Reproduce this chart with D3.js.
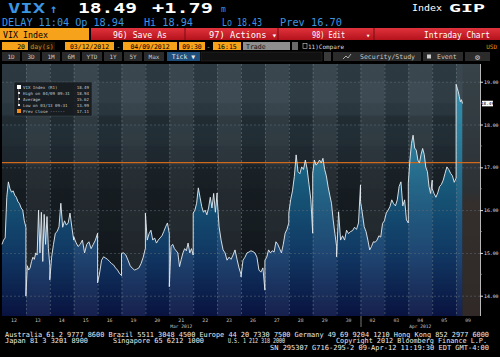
<!DOCTYPE html>
<html>
<head>
<meta charset="utf-8">
<script src="https://cdnjs.cloudflare.com/ajax/libs/d3/7.8.5/d3.min.js"></script>
<style>
body{margin:0;background:#000;overflow:hidden}
svg{display:block}
text{font-family:"DejaVu Sans Mono",monospace}
</style>
</head>
<body>
<div id="chart"></div>
<script>
// trading days shown on the x axis
const days = ["12","13","14","15","16","19","20","21","22","23","26","27","28","29","30","02","03","04","05","09"];
const monthLabels = ["Mar 2012","Apr 2012"];
const monthLabelDay = ["21","04"];
const monthBreakDay = "02";

// intraday VIX ticks, one list per day (evenly spaced through the session)
const dayTicks = [
    [15.2,15.3,15.35,16.3,16.66,16.5,16.42,16.45,16.35,16.3,16.2,16.15,16.05,16.0,15.75,15.6],
    [13.99,14.7,14.6,14.65,14.8,14.9,14.85,15.0,14.95,16.0,15.0,15.95,14.8,15.9,15.2,15.85,15.1,14.7],
    [14.37,14.9,15.2,15.46,15.5,15.61,16.16,15.6,15.75,15.65,15.7,15.93,15.6,15.3],
    [15.38,15.25,15.15,15.2,15.3,15.0,15.2,15.26,15.1,15.2,15.3,15.46],
    [14.3,14.53,14.83,14.91,14.88,14.85,14.8,14.75,14.72,14.65,14.6,14.52,14.47],
    [14.99,15.0,14.95,14.83,14.7,14.64,14.6,14.62,14.65,14.75,14.9,15.11],
    [15.93,15.3,15.45,15.53,15.3,15.35,15.23,15.3,15.35,15.4,15.5,15.61,15.7,15.45],
    [14.21,15.15,15.2,15.1,15.05,15.0,14.68,14.85,15.0,15.1,15.05,15.23,15.0,15.1,14.95],
    [15.93,16.0,16.16,16.52,16.3,16.08,15.95,16.0,15.89,16.05,16.3,16.05,16.39,15.95,16.4],
    [16.3,15.61,15.3,15.07,15.0,14.83,14.9,14.85,14.95,15.07,14.85,14.65,14.5],
    [14.44,14.83,14.9,15.0,15.02,15.05,15.03,15.0,14.9,14.6,14.55,14.65,14.13],
    [14.83,14.9,15.07,15.0,15.05,15.02,15.26,15.2,15.1,15.0,15.2,15.46,15.55,15.7],
    [15.93,16.24,16.45,16.78,17.29,16.9,16.85,17.01,16.95,17.17,16.95,16.6,16.24,15.46],
    [16.86,17.17,17.05,17.1,17.17,17.1,17.21,16.95,16.8,16.55,16.35,16.16,15.77,15.45,15.15],
    [14.91,15.96,15.3,15.4,15.3,15.53,15.45,15.5,15.52,15.6,15.55,15.7,16.59],
    [16.2,15.93,15.61,15.5,15.3,15.07,15.15,15.26,15.25,15.3,15.4,15.37,15.69,15.75],
    [15.75,15.93,16.0,16.08,16.24,16.15,16.1,16.24,16.55,16.66,16.1,16.24,15.77,15.7],
    [16.63,17.17,17.56,17.75,17.45,17.4,17.17,17.1,17.3,17.44,17.3,17.0,16.9,16.55,16.39,16.7],
    [16.5,16.39,16.3,16.4,16.55,16.6,16.7,16.86,17.01,16.95,16.86,16.8,16.65,16.75],
    [18.94,18.85,18.77,18.65,18.53,18.58,18.49]
];
const sessionOpen = "09:30";
const sessionClose = "16:15";
const snapTime = "11:19";

const yTicks = [14,15,16,17,18,19];
const prevClose = 17.11;
const lastPrice = 18.49;

const legendNames = ["VIX Index (R1)","High on 04/09 09:31","Average","Low on 03/13 09:31","Prev Close ------"];
const legendValues = ["18.49","18.94","15.62","13.99","17.11"];

const periodButtons = ["1D","3D","1M","6M","YTD","1Y","5Y","Max"];

const W = 500, H = 357;
const plot = {l:2, r:480, t:64, b:316};

const svg = d3.select("#chart").append("svg").attr("width",W).attr("height",H);
svg.append("rect").attr("width",W).attr("height",H).attr("fill","#000");

const defs = svg.append("defs");
const grad = (id,y1,y2,stops) =>
{
    const g = defs.append("linearGradient").attr("id",id)
        .attr("gradientUnits","userSpaceOnUse")
        .attr("x1",0).attr("x2",0).attr("y1",y1).attr("y2",y2);
    stops.forEach(s => g.append("stop").attr("offset",s[0]).attr("stop-color",s[1]));
}
grad("bg",plot.t,plot.b,[[0,"#34424b"],[0.2,"#313f48"],[0.21,"#26333b"],[0.4,"#222d34"],[0.41,"#1b2329"],[0.75,"#161d22"],[1,"#12181c"]]);
grad("area",plot.t,plot.b,[[0,"#2b93b4"],[0.3,"#1f7697"],[0.5,"#185c7f"],[0.75,"#123c6a"],[1,"#0a1444"]]);
grad("red",28,40,[[0,"#e0333d"],[1,"#b5121c"]]);
grad("rest",plot.t,plot.b,[[0,"#2c383f"],[0.5,"#20262a"],[0.55,"#292221"],[1,"#241d1c"]]);

const x = d3.scaleLinear().domain([0,days.length]).range([plot.l,plot.r]);
const y = d3.scaleLinear().domain([13.526,19.414]).range([plot.b,plot.t]);

const mins = s => { const p = s.split(":").map(Number); return p[0]*60+p[1]; };
const lastFrac = (mins(snapTime)-mins(sessionOpen))/(mins(sessionClose)-mins(sessionOpen));

const points = [];
dayTicks.forEach((vals,i) =>
{
    const frac = i === dayTicks.length-1 ? lastFrac : 1;
    vals.forEach((v,j) => points.push({t:i+frac*j/(vals.length-1),v:v}));
});
const lastT = points[points.length-1].t;

// ---------- header ----------
const txt = (g,s,px,py,o) =>
{
    const t = g.append("text").text(s).attr("x",px).attr("y",py)
        .attr("font-size",o.size||8).attr("fill",o.fill||"#fff");
    if (o.weight) t.attr("font-weight",o.weight);
    if (o.anchor) t.attr("text-anchor",o.anchor);
    if (o.len) t.attr("textLength",o.len).attr("lengthAdjust","spacingAndGlyphs");
    if (o.family) t.attr("font-family",o.family);
    return t;
}
const head = svg.append("g");
txt(head,"VIX",8,13,{size:14,weight:"bold",fill:"#3b95e0",len:37});
txt(head,"\u2191",50,13,{size:12,weight:"bold",fill:"#3b95e0"});
txt(head,"18.49",78,13,{size:14,weight:"bold",len:59});
txt(head,"+1.79",152,13,{size:14,weight:"bold",len:61});
txt(head,"m",221,12,{size:8,fill:"#3b95e0"});
txt(head,"Index",412,11,{size:9,len:30,family:"DejaVu Sans"});
txt(head,"GIP",449,12,{size:11,weight:"bold",len:36,family:"DejaVu Sans"});

txt(head,"DELAY 11:04 Op 18.94",2,26,{size:10,fill:"#3b95e0",len:122});
txt(head,"Hi 18.94",144,26,{size:10,fill:"#3b95e0",len:49});
txt(head,"Lo 18.43",222,26,{size:10,fill:"#3b95e0",len:40});
txt(head,"Prev 16.70",280,26,{size:10,fill:"#3b95e0",len:62});

// row 3: security box and red action bar
head.append("rect").attr("x",0).attr("y",28).attr("width",89).attr("height",12).attr("fill","#f7a21b");
txt(head,"VIX Index",3,37.5,{size:8,fill:"#000",len:45,family:"DejaVu Sans"});
head.append("rect").attr("x",91).attr("y",28).attr("width",409).attr("height",12).attr("fill","url(#red)");
[185,278,374].forEach(px => head.append("line").attr("x1",px).attr("x2",px).attr("y1",28).attr("y2",40).attr("stroke","#7a0a10"));
txt(head,"96) Save As",113,37.5,{size:8,len:54,family:"DejaVu Sans"});
txt(head,"97) Actions \u25BE",209,37.5,{size:8,len:68,family:"DejaVu Sans"});
txt(head,"98) Edit",312,37.5,{size:8,len:33,family:"DejaVu Sans"});
txt(head,"\u25BE",366,37.5,{size:7});
txt(head,"Intraday Chart",490,37.5,{size:8,anchor:"end",len:66,family:"DejaVu Sans"});

// row 4: date range
const amber = (px,w,s,anchor) =>
{
    head.append("rect").attr("x",px).attr("y",42).attr("width",w).attr("height",8).attr("fill","#f7a21b");
    txt(head,s,anchor==="end"?px+w-3:px+w/2,48.5,{size:6.5,fill:"#000",anchor:anchor||"middle"});
}
amber(2,26,"20","end");
head.append("rect").attr("x",29).attr("y",42).attr("width",26).attr("height",8).attr("fill","#1c1204");
txt(head,"day(s)",42,48.5,{size:6.5,fill:"#d08a20",anchor:"middle"});
amber(65,49,"03/12/2012");
txt(head,"-",118.5,48.5,{size:6.5,fill:"#bbb",anchor:"middle"});
amber(123,54,"04/09/2012");
amber(179,26,"09:30");
txt(head,"-",208.5,48.5,{size:6.5,fill:"#bbb",anchor:"middle"});
amber(213,28,"16:15");
head.append("rect").attr("x",243).attr("y",42).attr("width",47).attr("height",8).attr("fill","#8e8e8e");
txt(head,"Trade",246,48.5,{size:6.5,fill:"#111"});
head.append("rect").attr("x",292).attr("y",42).attr("width",6).attr("height",8).attr("fill","#6a6a6a");
head.append("rect").attr("x",303).attr("y",43.5).attr("width",4).attr("height",5).attr("fill","none").attr("stroke","#ccc").attr("stroke-width",0.6);
txt(head,"11)Compare",308,48.5,{size:6,fill:"#ddd",len:36});
txt(head,"USD",497,48.5,{size:6,fill:"#f0900f",anchor:"end"});

// row 5: period buttons
let bx = 2;
periodButtons.forEach(b =>
{
    const w = b.length > 2 ? 20 : 18;
    head.append("rect").attr("x",bx).attr("y",52).attr("width",w).attr("height",9).attr("fill","#2b2b2b");
    txt(head,b,bx+w/2,59,{size:6,fill:"#c8c8c8",anchor:"middle"});
    bx += w+2;
});
head.append("rect").attr("x",167).attr("y",52).attr("width",33).attr("height",9).attr("fill","#1d4e7c");
txt(head,"Tick \u25BC",183.5,59,{size:6.5,fill:"#e8e8e8",anchor:"middle"});
head.append("rect").attr("x",201).attr("y",52).attr("width",121).attr("height",9).attr("fill","#111").attr("stroke","#333").attr("stroke-width",0.5);
head.append("rect").attr("x",324).attr("y",52).attr("width",7).attr("height",9).attr("fill","#3a3a3a");
head.append("rect").attr("x",333).attr("y",52).attr("width",88).attr("height",9).attr("fill","#2b2b2b");
txt(head,"Security/Study",360,59,{size:6.5,fill:"#c8c8c8",len:55,family:"DejaVu Sans"});
head.append("path").attr("d","M343,59 l3,-3 l2,2 l3,-4").attr("fill","none").attr("stroke","#ccc").attr("stroke-width",0.8);
head.append("rect").attr("x",423).attr("y",52).attr("width",40).attr("height",9).attr("fill","#2b2b2b");
txt(head,"Event",437,59,{size:6.5,fill:"#c8c8c8",family:"DejaVu Sans"});
head.append("rect").attr("x",427).attr("y",54.5).attr("width",4).attr("height",4).attr("fill","#ccc");
head.append("rect").attr("x",465).attr("y",52).attr("width",25).attr("height",9).attr("fill","#2b2b2b");
txt(head,"\u2699",477.5,59.5,{size:8,fill:"#ccc",anchor:"middle",family:"DejaVu Sans"});

// ---------- plot ----------
const chart = svg.append("g");
chart.append("rect").attr("x",plot.l).attr("y",plot.t).attr("width",plot.r-plot.l).attr("height",plot.b-plot.t).attr("fill","url(#bg)");

// horizontal shading bands
d3.range(13.5,19.5,0.5).forEach((v,i) =>
{
    if (i%2) chart.append("rect").attr("x",plot.l).attr("width",plot.r-plot.l)
        .attr("y",Math.max(plot.t,y(v+0.5))).attr("height",Math.min(plot.b,y(v))-Math.max(plot.t,y(v+0.5)))
        .attr("fill","#000").attr("opacity",0.07);
});

// area under the price line
chart.append("path").datum(points)
    .attr("fill","url(#area)")
    .attr("d",d3.area().x(d => x(d.t)).y0(plot.b).y1(d => y(d.v)));

// part of today's column not traded yet
chart.append("rect").attr("x",x(lastT)).attr("y",plot.t).attr("width",plot.r-x(lastT)).attr("height",plot.b-plot.t).attr("fill","url(#rest)");

// alternating day columns
days.forEach((d,i) =>
{
    chart.append("rect").attr("x",x(i)).attr("y",plot.t).attr("width",x(i+1)-x(i)).attr("height",plot.b-plot.t)
        .attr("fill",i%2 ? "#fff" : "#000").attr("opacity",i%2 ? 0.055 : 0.06);
});

// grid
chart.selectAll(".vgrid").data(d3.range(1,days.length)).enter().append("line")
    .attr("x1",d => x(d)+0.5).attr("x2",d => x(d)+0.5).attr("y1",plot.t).attr("y2",plot.b)
    .attr("stroke","#6f7c86").attr("stroke-width",0.8).attr("stroke-dasharray","2,2").attr("opacity",0.7);
chart.selectAll(".hgrid").data(yTicks).enter().append("line")
    .attr("x1",plot.l).attr("x2",plot.r).attr("y1",d => y(d)+0.5).attr("y2",d => y(d)+0.5)
    .attr("stroke","#5d6b75").attr("stroke-width",0.8).attr("stroke-dasharray","2,2").attr("opacity",0.7);

// previous close
chart.append("line").attr("x1",plot.l).attr("x2",plot.r).attr("y1",y(prevClose)).attr("y2",y(prevClose))
    .attr("stroke","#cf6a1c").attr("stroke-width",1.2);

// price line
chart.append("path").datum(points)
    .attr("fill","none").attr("stroke","#e6edf2").attr("stroke-width",0.9)
    .attr("d",d3.line().x(d => x(d.t)).y(d => y(d.v)));

// legend
const leg = chart.append("g");
leg.append("rect").attr("x",14).attr("y",82).attr("width",78).attr("height",34)
    .attr("fill","#14191d").attr("opacity",0.88).attr("stroke","#4a545b").attr("stroke-width",0.5);
leg.append("line").attr("x1",18.5).attr("x2",18.5).attr("y1",88).attr("y2",105).attr("stroke","#888").attr("stroke-width",0.5);
legendNames.forEach((n,i) =>
{
    const ly = 88.5+i*6;
    if (i === 0) leg.append("rect").attr("x",17).attr("y",ly-3.5).attr("width",4).attr("height",4).attr("fill","#fff");
    else if (i === 4) leg.append("rect").attr("x",17).attr("y",ly-3.5).attr("width",4).attr("height",4).attr("fill","#f08a1a");
    else leg.append("rect").attr("x",18).attr("y",ly-2.5).attr("width",2).attr("height",2).attr("fill","#ddd");
    txt(leg,n,23,ly,{size:4.1,fill:"#c9cfd3",family:"DejaVu Sans"});
    txt(leg,legendValues[i],89,ly,{size:4.1,fill:"#c9cfd3",anchor:"end",family:"DejaVu Sans"});
});

// right axis
const axis = svg.append("g").attr("transform",`translate(${plot.r},0)`);
axis.call(d3.axisRight(y).tickValues(yTicks).tickSize(3).tickFormat(d3.format(".2f")));
axis.select(".domain").attr("stroke","#b8b8b8").attr("d",`M0.5,${plot.t}V${plot.b}`);
axis.selectAll(".tick line").attr("stroke","#e0e0e0");
axis.selectAll(".tick text").attr("x",4).attr("font-size",4.8).attr("fill","#e0e0e0")
    .attr("font-family","DejaVu Sans");
axis.selectAll(".minor").data(yTicks.map(v => v+0.5).filter(v => v < 19.4)).enter().append("line")
    .attr("x1",0).attr("x2",2).attr("y1",d => y(d)).attr("y2",d => y(d)).attr("stroke","#aaa").attr("stroke-width",0.6);
axis.append("rect").attr("x",2).attr("y",y(lastPrice)-2.8).attr("width",11).attr("height",5.6).attr("fill","#fff");
txt(axis,"18.49",7.5,y(lastPrice)+1.6,{size:4.3,fill:"#000",anchor:"middle",family:"DejaVu Sans"});

// x axis labels
const xl = svg.append("g");
days.forEach((d,i) => txt(xl,d,x(i+0.5),322,{size:4.8,fill:"#c8c8c8",anchor:"middle",family:"DejaVu Sans"}));
monthLabels.forEach((m,i) =>
{
    const idx = days.indexOf(monthLabelDay[i]);
    txt(xl,m,x(idx+0.5),328,{size:4.6,fill:"#c8c8c8",anchor:"middle",family:"DejaVu Sans"});
});
const br = x(days.indexOf(monthBreakDay))+0.5;
xl.append("line").attr("x1",br).attr("x2",br).attr("y1",plot.b).attr("y2",327).attr("stroke","#aaa").attr("stroke-width",0.7);

// footer
const foot = svg.append("g");
txt(foot,"Australia 61 2 9777 8600 Brazil 5511 3048 4500 Europe 44 20 7330 7500 Germany 49 69 9204 1210 Hong Kong 852 2977 6000",5,336.5,{size:7,fill:"#ececec",len:484});
txt(foot,"Japan 81 3 3201 8900",5,343,{size:7,fill:"#ececec",len:83});
txt(foot,"Singapore 65 6212 1000",113,343,{size:7,fill:"#ececec",len:91});
txt(foot,"U.S. 1 212 318 2000",228,343,{size:7,fill:"#ececec",len:57});
txt(foot,"Copyright 2012 Bloomberg Finance L.P.",336,343,{size:7,fill:"#ececec",len:151});
txt(foot,"SN 295307 G716-295-2 09-Apr-12 11:19:30 EDT  GMT-4:00",270,350,{size:7,fill:"#ececec",len:219});
</script>
</body>
</html>
